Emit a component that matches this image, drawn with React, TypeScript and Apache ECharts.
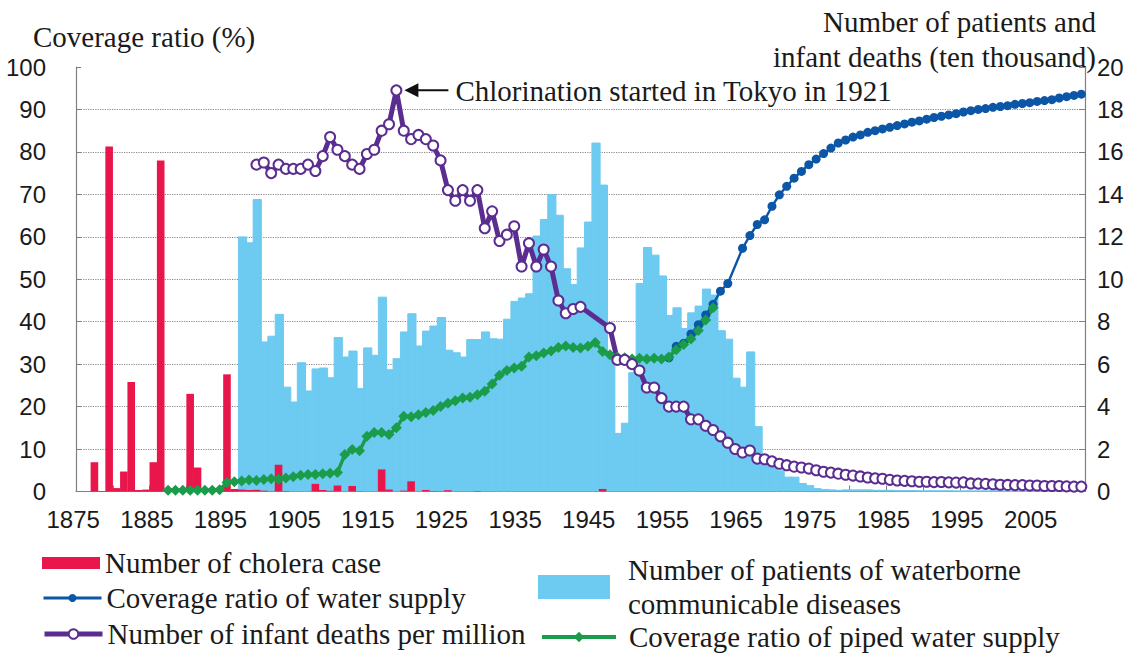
import React, { useEffect, useRef } from 'react';
import * as echarts from 'echarts';

// ---------- data ----------
const FIRST_YEAR = 1875;
const LAST_YEAR = 2011;
const xTickLabels = ['1875', '1885', '1895', '1905', '1915', '1925', '1935', '1945', '1955', '1965', '1975', '1985', '1995', '2005'];

// Number of cholera cases (ten thousand), from 1877
const choleraStart = 1877;
const choleraCases = [
  1.38, 0.02, 16.26, 0.16, 0.94, 5.16, 0.07, 0.09, 1.38, 15.59, // 1877-1886
  0.12, 0.08, 0.08, 4.6, 1.13, 0.09, 0.06, 0.05, 5.52, 0.12, // 1887-1896
  0.09, 0.07, 0.08, 0.04, 0.01, 1.26, 0.02, null, null, null, // 1897-1906
  0.36, 0.07, 0.03, 0.28, null, 0.26, 0.01, null, null, 1.04, // 1907-1916
  0.09, null, 0.04, 0.48, null, 0.07, 0.02, 0.01, 0.06, null, // 1917-1926
  null, null, 0.02, null, null, null, null, null, null, null, // 1927-1936
  null, null, null, null, null, null, null, null, null, 0.12, // 1937-1946
];

// Number of patients of waterborne communicable diseases (ten thousand), from 1897
const waterborneStart = 1897;
const waterbornePatients = [
  12.02, 11.74, 13.78, 7.07, 7.34, 8.37, 4.94, 4.24, 6.09, 4.76, // 1897-1906
  5.8, 5.84, 5.38, 7.28, 6.36, 6.64, 4.88, 6.79, 6.44, 9.18, // 1907-1916
  5.76, 6.28, 7.54, 8.4, 6.88, 7.58, 7.82, 8.22, 6.68, 6.56, // 1917-1926
  6.36, 7.18, 7.18, 7.54, 7.22, 7.2, 8.14, 8.98, 9.14, 9.34, // 1927-1936
  12.06, 12.84, 14.02, 13.04, 10.52, 9.78, 11.5, 12.72, 16.44, 14.46, // 1937-1946
  6.3, 2.76, 3.24, 5.62, 9.82, 11.52, 11.16, 10.18, 8.32, 8.68, // 1947-1956
  7.7, 8.44, 8.76, 9.56, 9.28, 7.6, 7.2, 5.36, 4.94, 6.6, // 1957-1966
  3.08, 1.4, 1.2, 1.0, 0.7, 0.7, 0.4, 0.3, 0.16, 0.12, // 1967-1976
  0.1, 0.08, 0.1, 0.1, 0.1, 0.1, 0.08, 0.08, 0.08, 0.06, // 1977-1986
  0.06, 0.06, 0.05, 0.05, 0.05, 0.05, 0.05, 0.04, 0.04, 0.04, // 1987-1996
  0.04, 0.04, 0.04, 0.04, 0.04, 0.04, 0.04, 0.04, 0.04, 0.04, // 1997-2006
  0.04, 0.04, 0.04, 0.04, 0.04, // 2007-2011
];

// Number of infant deaths (right axis units), from 1899; 1944-1946 missing
const infantStart = 1899;
const infantDeaths = [
  15.4, 15.5, 15.0, 15.4, 15.2, 15.2, 15.2, 15.4, 15.1, 15.8, // 1899-1908
  16.7, 16.1, 15.8, 15.4, 15.2, 15.9, 16.1, 17.0, 17.3, 18.9, // 1909-1918
  17.0, 16.6, 16.8, 16.6, 16.3, 15.6, 14.2, 13.7, 14.2, 13.7, // 1919-1928
  14.2, 12.4, 13.2, 11.8, 12.1, 12.5, 10.6, 11.7, 10.6, 11.4, // 1929-1938
  10.6, 9.0, 8.4, 8.6, 8.7, null, null, null, 7.7, 6.2, // 1939-1948
  6.2, 6.0, 5.7, 4.9, 4.9, 4.4, 4.0, 4.0, 4.0, 3.4, // 1949-1958
  3.4, 3.1, 2.9, 2.6, 2.3, 2.0, 1.84, 1.93, 1.55, 1.52, // 1959-1968
  1.42, 1.31, 1.24, 1.17, 1.13, 1.08, 1.0, 0.93, 0.89, 0.84, // 1969-1978
  0.79, 0.75, 0.71, 0.66, 0.62, 0.6, 0.55, 0.52, 0.5, 0.48, // 1979-1988
  0.46, 0.46, 0.44, 0.45, 0.43, 0.42, 0.43, 0.38, 0.37, 0.36, // 1989-1998
  0.34, 0.32, 0.31, 0.3, 0.3, 0.28, 0.28, 0.26, 0.26, 0.26, // 1999-2008
  0.24, 0.23, 0.23, // 2009-2011
];

// Coverage ratio of piped water supply (%), from 1887
const pipedStart = 1887;
const pipedCoverage = [
  0.3, 0.3, 0.3, 0.3, 0.3, 0.3, 0.3, 0.4, 2.1, 2.3, // 1887-1896
  2.5, 2.7, 2.6, 2.8, 3.0, 2.9, 3.2, 3.5, 3.8, 4.0, // 1897-1906
  4.0, 4.2, 4.3, 4.5, 8.7, 9.9, 9.6, 13.0, 13.9, 13.9, // 1907-1916
  13.4, 15.0, 17.7, 17.6, 18.1, 18.6, 19.1, 20.0, 20.8, 21.4, // 1917-1926
  22.0, 22.2, 22.8, 23.6, 25.3, 27.4, 28.5, 29.1, 29.5, 31.7, // 1927-1936
  32.0, 32.6, 33.1, 33.9, 34.3, 33.9, 33.8, 34.2, 35.1, 33.0, // 1937-1946
  32.2, 31.7, 31.5, 31.2, 31.4, 31.2, 31.4, 31.2, 31.7, 33.4, // 1947-1956
  34.6, 35.9, 37.9, 40.4, 43.3, // 1957-1961
];

// Coverage ratio of water supply (%), from 1955; 1964 missing
const supplyStart = 1955;
const supplyCoverage = [
  31.5, 34.2, 34.9, 37.1, 39.3, 41.6, 44.1, 47.2, 49.0, null, // 1955-1964
  57.3, 60.3, 62.9, 64.0, 67.2, 69.9, 71.9, 73.8, 75.4, 77.0, // 1965-1974
  78.3, 79.6, 80.9, 82.1, 82.8, 83.5, 84.0, 84.6, 85.0, 85.4, // 1975-1984
  85.8, 86.2, 86.6, 87.0, 87.3, 87.7, 88.1, 88.4, 88.7, 89.0, // 1985-1994
  89.4, 89.7, 90.0, 90.2, 90.5, 90.7, 90.9, 91.2, 91.4, 91.6, // 1995-2004
  91.9, 92.1, 92.3, 92.7, 93.0, 93.3, 93.6, // 2005-2011
];

const chlorinationYear = '1918';
const chlorinationText = 'Chlorination started in Tokyo in 1921';

// ---------- helpers ----------
const years: string[] = [];
for (let y = FIRST_YEAR; y <= LAST_YEAR; y++) years.push(String(y));

function align(start: number, values: (number | null)[]): (number | null)[] {
  return years.map((y) => {
    const i = Number(y) - start;
    return i >= 0 && i < values.length ? values[i] : null;
  });
}

const SERIF = "'Liberation Serif', 'Times New Roman', serif";
const NARROW = "'Liberation Sans Narrow', 'Arial Narrow', 'Liberation Sans', sans-serif";
const TXT = '#1a1a1a';

const N_CHOLERA = 'Number of cholera case';
const N_SUPPLY = 'Coverage ratio of water supply';
const N_INFANT = 'Number of infant deaths per million';
const N_WATERBORNE = 'Number of patients of waterborne communicable diseases';
const N_PIPED = 'Coverage ratio of piped water supply';

const C_BLUEBAR = '#6dcaf0';
const C_RED = '#e9164b';
const C_SUPPLY = '#0b56a6';
const C_PIPED = '#1b9c4a';
const C_INFANT = '#5b2d90';

export default function App() {
  const ref = useRef<HTMLDivElement>(null);
  useEffect(() => {
    if (!ref.current) return;
    const chart = echarts.init(ref.current, undefined, { renderer: 'svg' });
    const legendText = { fontFamily: SERIF, fontSize: 29, color: TXT, lineHeight: 30 };
    const axisGray = '#808080';
    chart.setOption({
      animation: false,
      backgroundColor: '#ffffff',
      grid: { left: 76, right: 46, top: 67, bottom: 164.5, containLabel: false },
      xAxis: {
        type: 'category',
        data: years,
        boundaryGap: true,
        axisLine: { show: true, lineStyle: { color: axisGray, width: 1.2 } },
        axisTick: { show: true, inside: true, length: 6, interval: (i: number) => i % 5 === 0, lineStyle: { color: axisGray } },
        axisLabel: {
          interval: (_i: number, v: string) => xTickLabels.includes(v),
          formatter: (v: string) => `{t|${v}}`,
          margin: 16,
          rich: { t: { fontFamily: NARROW, fontSize: 24, color: TXT, padding: [0, 13, 0, 0] } },
        },
        splitLine: { show: false },
      },
      yAxis: [
        {
          type: 'value', min: 0, max: 100, interval: 10,
          axisLine: { show: true, lineStyle: { color: axisGray, width: 1.2 } },
          axisTick: { show: true, inside: true, length: 5, lineStyle: { color: axisGray } },
          axisLabel: { fontFamily: NARROW, fontSize: 24, color: TXT, margin: 30 },
          splitLine: { show: true, showMaxLine: false, lineStyle: { type: 'dotted', color: '#8a8a8a', width: 1.2 } },
        },
        {
          type: 'value', min: 0, max: 20, interval: 2, position: 'right',
          axisLine: { show: true, lineStyle: { color: axisGray, width: 1.2 } },
          axisTick: { show: true, inside: true, length: 6, lineStyle: { color: axisGray } },
          axisLabel: { fontFamily: NARROW, fontSize: 24, color: TXT, margin: 12 },
          splitLine: { show: false },
        },
      ],
      legend: [
        { data: [N_CHOLERA], left: 42, top: 548, padding: 0, itemWidth: 58, itemHeight: 12, icon: 'rect', selectedMode: false, textStyle: legendText },
        {
          data: [N_SUPPLY], left: 42, top: 583, padding: 0, itemWidth: 58, itemHeight: 10, selectedMode: false, textStyle: legendText,
          lineStyle: { width: 3 },
        },
        {
          data: [N_INFANT], left: 42, top: 619, padding: 0, itemWidth: 58, itemHeight: 12, selectedMode: false, textStyle: legendText,
          lineStyle: { width: 5 },
        },
        {
          data: [N_WATERBORNE], left: 538, top: 553, padding: 0, itemWidth: 70, itemHeight: 22, icon: 'rect', selectedMode: false,
          formatter: () => 'Number of patients of waterborne\ncommunicable diseases',
          textStyle: { ...legendText, lineHeight: 34, padding: [0, 0, 0, 14] },
        },
        {
          data: [N_PIPED], left: 540, top: 622, padding: 0, itemWidth: 74, itemHeight: 13, selectedMode: false,
          textStyle: { ...legendText, padding: [0, 0, 0, 8] }, lineStyle: { width: 4 },
        },
      ],
      series: [
        {
          name: N_WATERBORNE, type: 'bar', yAxisIndex: 1, data: align(waterborneStart, waterbornePatients),
          barGap: '-100%', barWidth: 9.2,
          itemStyle: { color: C_BLUEBAR, borderColor: C_BLUEBAR, borderWidth: 1 },
        },
        {
          name: N_CHOLERA, type: 'bar', yAxisIndex: 1, data: align(choleraStart, choleraCases),
          barGap: '-100%', barWidth: 7.6,
          itemStyle: { color: C_RED },
        },
        {
          name: N_SUPPLY, type: 'line', yAxisIndex: 0, data: align(supplyStart, supplyCoverage), connectNulls: true,
          symbol: 'circle', symbolSize: 9, showAllSymbol: true,
          lineStyle: { width: 2.4, color: C_SUPPLY }, itemStyle: { color: C_SUPPLY },
        },
        {
          name: N_PIPED, type: 'line', yAxisIndex: 0, data: align(pipedStart, pipedCoverage),
          symbol: 'diamond', symbolSize: 11, showAllSymbol: true,
          lineStyle: { width: 3.5, color: C_PIPED }, itemStyle: { color: C_PIPED },
        },
        {
          name: N_INFANT, type: 'line', yAxisIndex: 1, data: align(infantStart, infantDeaths), connectNulls: true,
          symbol: 'emptyCircle', symbolSize: 10, showAllSymbol: true,
          lineStyle: { width: 5, color: C_INFANT }, itemStyle: { color: C_INFANT, borderWidth: 2.5 },
        },
      ],
    });

    // annotation anchored to the 1918 infant-death point
    const peakVal = infantDeaths[Number(chlorinationYear) - infantStart] as number;
    const p = chart.convertToPixel({ xAxisIndex: 0, yAxisIndex: 1 }, [chlorinationYear, peakVal]) as number[];
    const tipX = p[0] + 8;
    const ay = p[1];
    chart.setOption({
      graphic: [
        { type: 'text', left: 33, top: 22, style: { text: 'Coverage ratio (%)', font: `29px ${SERIF}`, fill: TXT } },
        {
          type: 'text', x: 1096, y: 4,
          style: { text: 'Number of patients and\ninfant deaths (ten thousand)', font: `29px ${SERIF}`, fill: TXT, align: 'right', verticalAlign: 'top', lineHeight: 35 },
        },
        { type: 'line', shape: { x1: tipX + 12, y1: ay, x2: tipX + 44, y2: ay }, style: { stroke: '#111', lineWidth: 2 } },
        { type: 'polygon', shape: { points: [[tipX, ay], [tipX + 14, ay - 7], [tipX + 14, ay + 7]] }, style: { fill: '#111' } },
        { type: 'text', x: tipX + 51, y: ay + 1, style: { text: chlorinationText, font: `29px ${SERIF}`, fill: TXT, verticalAlign: 'middle' } },
      ],
    });
    return () => chart.dispose();
  }, []);
  return <div ref={ref} style={{ position: 'absolute', left: 0, top: 0, width: 1131, height: 656, background: '#fff' }} />;
}
